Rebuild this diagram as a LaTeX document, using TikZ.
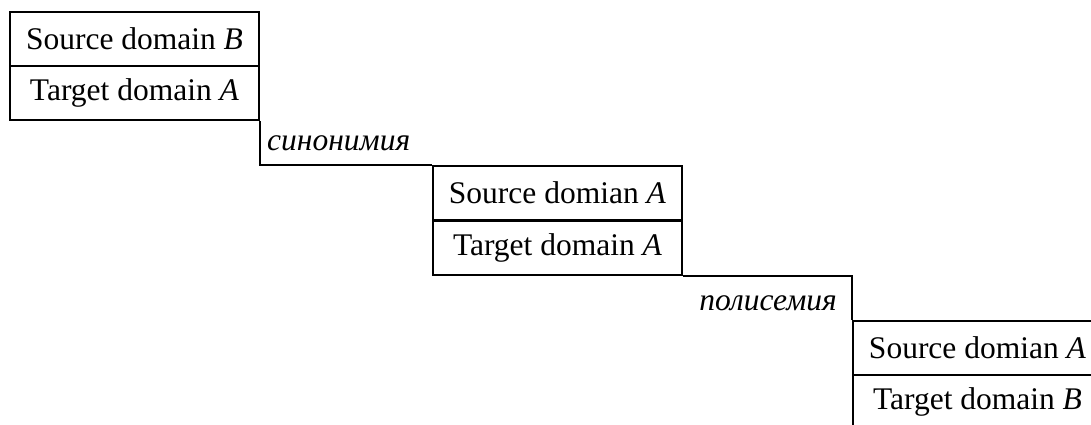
\documentclass[tikz,border=0pt]{standalone}
\usepackage{fontspec}
\setmainfont{Liberation Serif}
\begin{document}
\begin{tikzpicture}[x=1pt,y=-1pt,
  cell/.style={draw, line width=2pt, minimum width=249pt, minimum height=54pt,
    inner sep=0pt, font=\fontsize{31.5}{36}\selectfont},
  link/.style={line width=2pt},
  tag/.style={inner sep=0pt, font=\fontsize{31.5}{36}\selectfont\itshape}]
  \clip (0,0) rectangle (1091,424);
  % first pair of domains
  \node[cell] (b1s) at (134.5,39) {Source domain \textit{B}};
  \node[cell] (b1t) at (134.5,93) {Target domain \textit{A}};
  % second pair
  \node[cell] (b2s) at (557.5,193) {Source domian \textit{A}};
  \node[cell] (b2t) at (557.5,247.5) {Target domain \textit{A}};
  % third pair
  \node[cell] (b3s) at (977.5,348) {Source domian \textit{A}};
  \node[cell] (b3t) at (977.5,402) {Target domain \textit{B}};
  % step labels
  \node[tag, anchor=base west] (syn) at (267,150) {синонимия};
  \node[tag, anchor=base east] (poly) at (837,310) {полисемия};
  % stair connectors
  \draw[link] (b1t.south east) |- (b2s.north west);
  \draw[link] (b2t.south east) -| (b3s.north west);
\end{tikzpicture}
\end{document}
